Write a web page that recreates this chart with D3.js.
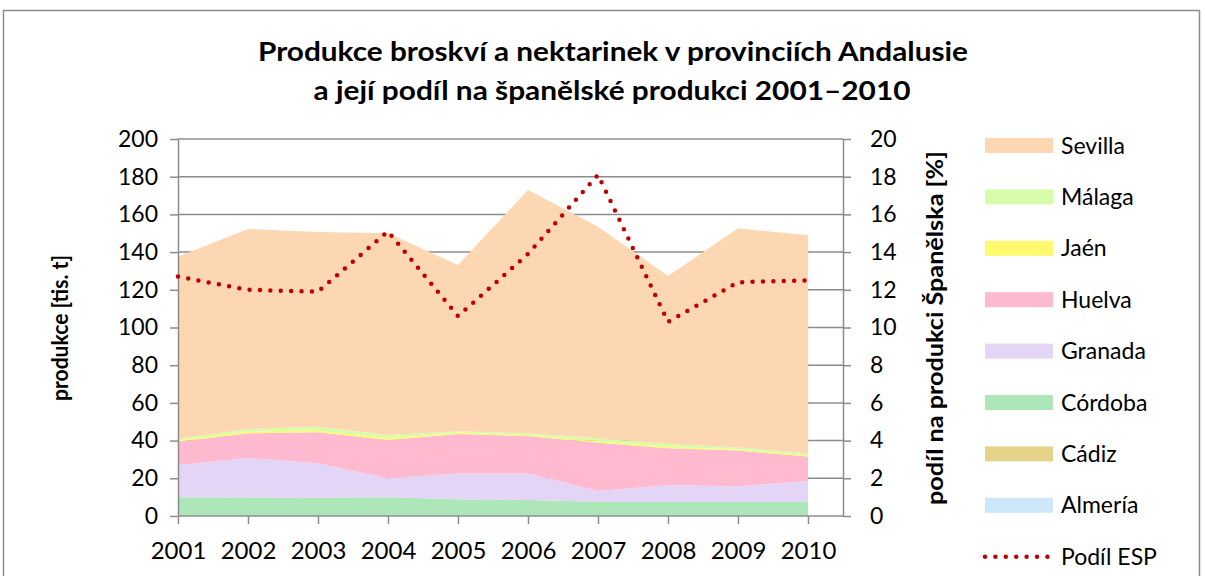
<!DOCTYPE html>
<html>
<head>
<meta charset="utf-8">
<script src="https://cdn.jsdelivr.net/npm/d3@7"></script>
<style>
  body { margin: 0; background: #fff; }
  text { font-family: Lato, "Open Sans", sans-serif; fill: #000; }
</style>
</head>
<body>
<div id="chart"></div>
<script>
// Data (tis. t)
const years = [2001, 2002, 2003, 2004, 2005, 2006, 2007, 2008, 2009, 2010];
const almeria = [0.1, 0.1, 0.1, 0.1, 0.1, 0.1, 0.1, 0.1, 0.1, 0.1];
const cadiz   = [0.1, 0.1, 0.1, 0.1, 0.1, 0.1, 0.1, 0.1, 0.1, 0.1];
const cordoba = [9.8, 9.6, 9.5, 9.8, 8.7, 8.3, 7.4, 7.4, 7.4, 7.4];
const granada = [17.0, 21.0, 18.3, 10.0, 13.7, 14.0, 5.7, 8.8, 8.1, 11.0];
const huelva  = [12.4, 13.1, 16.4, 20.3, 20.9, 19.9, 25.6, 19.6, 19.0, 12.9];
const jaen    = [0.8, 0.8, 1.1, 0.9, 0.6, 0.6, 0.8, 0.8, 0.6, 0.7];
const malaga  = [0.8, 1.5, 1.9, 1.8, 0.9, 0.9, 1.5, 1.4, 1.1, 1.1];
const sevilla = [96.6, 106.1, 103.2, 107.0, 88.2, 129.1, 112.3, 89.1, 116.2, 115.6];
// share of Spanish production [%]
const podilESP = [12.7, 12.0, 11.9, 15.1, 10.6, 13.9, 18.1, 10.3, 12.4, 12.5];

const leftTicks = [0, 20, 40, 60, 80, 100, 120, 140, 160, 180, 200];
const rightTicks = [0, 2, 4, 6, 8, 10, 12, 14, 16, 18, 20];

const series = [
  { key: "Almería", values: almeria, color: "#cce8fa" },
  { key: "Cádiz",   values: cadiz,   color: "#e5d389" },
  { key: "Córdoba", values: cordoba, color: "#ade6b8" },
  { key: "Granada", values: granada, color: "#e4d4f5" },
  { key: "Huelva",  values: huelva,  color: "#ffbad0" },
  { key: "Jaén",    values: jaen,    color: "#fff96e" },
  { key: "Málaga",  values: malaga,  color: "#d7fdab" },
  { key: "Sevilla", values: sevilla, color: "#fdd7b1" }
];

const width = 1205, height = 576;
const plot = { left: 178, right: 843, top: 139, bottom: 516 };
const gridColor = "#8c8c8c";

const svg = d3.select("#chart").append("svg")
    .attr("width", width)
    .attr("height", height);

// chart frame
svg.append("rect")
    .attr("x", 3.5).attr("y", 10.5)
    .attr("width", 1196).attr("height", 600)
    .attr("fill", "none")
    .attr("stroke", "#8c8c8c")
    .attr("stroke-width", 1.5);

// Title
svg.append("text")
    .attr("x", 613).attr("y", 61)
    .attr("text-anchor", "middle")
    .attr("font-weight", "bold")
    .attr("font-size", 27)
    .attr("textLength", 710).attr("lengthAdjust", "spacingAndGlyphs")
    .text("Produkce broskví a nektarinek v provinciích Andalusie");
svg.append("text")
    .attr("x", 612).attr("y", 100)
    .attr("text-anchor", "middle")
    .attr("font-weight", "bold")
    .attr("font-size", 27)
    .attr("textLength", 597).attr("lengthAdjust", "spacingAndGlyphs")
    .text("a její podíl na španělské produkci 2001–2010");

// Scales
const x = d3.scaleLinear().domain([2001, 2010]).range([178, 808]);
const y = d3.scaleLinear().domain([0, 200]).range([plot.bottom, plot.top]);
const y2 = d3.scaleLinear().domain([0, 20]).range([plot.bottom, plot.top]);

// Gridlines
svg.append("g")
  .selectAll("line")
  .data(leftTicks.slice(1))
  .enter().append("line")
    .attr("x1", plot.left).attr("x2", plot.right)
    .attr("y1", d => y(d)).attr("y2", d => y(d))
    .attr("stroke", gridColor)
    .attr("stroke-width", 1.5);

// Stacked areas
const table = years.map((yr, i) => {
  const row = { year: yr };
  series.forEach(s => { row[s.key] = s.values[i]; });
  return row;
});
const stack = d3.stack().keys(series.map(s => s.key));
const layers = stack(table);

const area = d3.area()
    .x(d => x(d.data.year))
    .y0(d => y(d[0]))
    .y1(d => y(d[1]));

svg.append("g")
  .selectAll("path")
  .data(layers)
  .enter().append("path")
    .attr("d", area)
    .attr("fill", (d, i) => series[i].color);

// Axes
const axisStyle = g => {
  g.select(".domain").attr("stroke", gridColor).attr("stroke-width", 1.5);
  g.selectAll(".tick line").attr("stroke", gridColor).attr("stroke-width", 1.5);
  g.selectAll(".tick text").attr("font-size", 23).attr("font-family", "Lato, sans-serif");
};

svg.append("g")
    .attr("transform", `translate(${plot.left},0)`)
    .call(d3.axisLeft(y).tickValues(leftTicks).tickSize(8).tickSizeOuter(0).tickPadding(12))
    .call(axisStyle);

svg.append("g")
    .attr("transform", `translate(${plot.right},0)`)
    .call(d3.axisRight(y2).tickValues(rightTicks).tickSize(8).tickSizeOuter(0).tickPadding(19))
    .call(axisStyle);

const xAxis = svg.append("g")
    .attr("transform", `translate(0,${plot.bottom})`)
    .call(d3.axisBottom(x).tickValues(years).tickFormat(d3.format("d")).tickSize(8).tickSizeOuter(0).tickPadding(18))
    .call(axisStyle);
xAxis.select(".domain").attr("d", `M${plot.left},0H${plot.right}`);
xAxis.selectAll(".tick text").attr("font-size", 24);

// Share line (dotted)
const line = d3.line()
    .x((d, i) => x(years[i]))
    .y(d => y2(d));

svg.append("path")
    .datum(podilESP)
    .attr("d", line)
    .attr("fill", "none")
    .attr("stroke", "#c00000")
    .attr("stroke-width", 4.5)
    .attr("stroke-linecap", "round")
    .attr("stroke-dasharray", "0 10.4");

// Axis titles
svg.append("text")
    .attr("transform", "translate(68,328) rotate(-90)")
    .attr("text-anchor", "middle")
    .attr("font-weight", "bold")
    .attr("font-size", 22)
    .attr("textLength", 146).attr("lengthAdjust", "spacingAndGlyphs")
    .text("produkce [tis. t]");

svg.append("text")
    .attr("transform", "translate(943,328) rotate(-90)")
    .attr("text-anchor", "middle")
    .attr("font-weight", "bold")
    .attr("font-size", 22)
    .attr("textLength", 354).attr("lengthAdjust", "spacingAndGlyphs")
    .text("podíl na produkci Španělska [%]");

// Legend
const legendItems = series.slice().reverse()
    .map(s => ({ key: s.key, color: s.color, type: "area" }))
    .concat([{ key: "Podíl ESP", color: "#c00000", type: "line" }]);

const legend = svg.selectAll(".legend")
    .data(legendItems)
    .enter().append("g")
    .attr("class", "legend")
    .attr("transform", (d, i) => `translate(985,${145.5 + i * 51.4})`);

legend.filter(d => d.type === "area").append("rect")
    .attr("x", 0).attr("y", -7.5)
    .attr("width", 68).attr("height", 15)
    .attr("fill", d => d.color);

legend.filter(d => d.type === "line").append("line")
    .attr("x1", 0).attr("x2", 68)
    .attr("y1", 0).attr("y2", 0)
    .attr("stroke", d => d.color)
    .attr("stroke-width", 4.5)
    .attr("stroke-linecap", "round")
    .attr("stroke-dasharray", "0 10.4");

legend.append("text")
    .attr("x", 76).attr("y", 8)
    .attr("font-size", 23)
    .text(d => d.key);
</script>
</body>
</html>
